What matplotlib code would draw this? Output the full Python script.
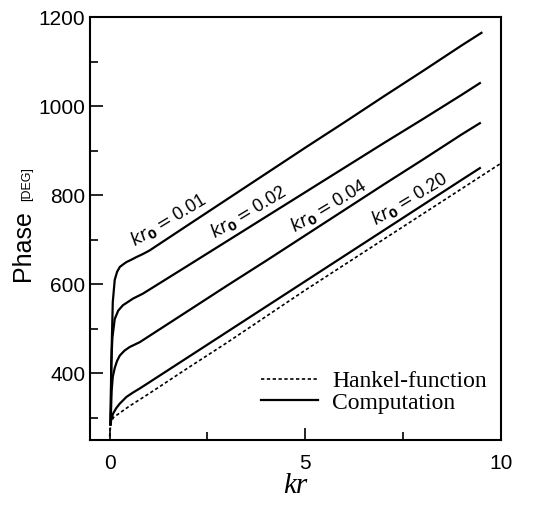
import numpy as np
import matplotlib.pyplot as plt
from matplotlib.ticker import MultipleLocator

# values
kr_hankel = [0.0, 0.03, 0.1, 0.5, 1, 2, 3, 4, 5, 6, 7, 8, 9, 10]
ph_hankel = [258, 290, 301, 326, 354, 412, 469, 528, 587, 644, 701, 758, 815, 872]

kr_001 = [0.02, 0.03, 0.05, 0.08, 0.13, 0.19, 0.26, 0.35, 0.43, 0.55, 0.68, 0.85, 1.02, 2, 3, 4, 5, 6, 7, 8, 9, 9.5]
ph_001 = [285, 330, 450, 560, 610, 628, 639, 645, 650, 655, 661, 668, 676, 733, 791, 849, 907, 964, 1022, 1079, 1137, 1165]

kr_002 = [0.02, 0.03, 0.04, 0.07, 0.13, 0.22, 0.34, 0.6, 0.85, 2, 3, 4, 5, 6, 7, 8, 9, 9.46]
ph_002 = [285, 330, 420, 480, 522, 541, 553, 568, 579, 642, 697, 752, 807, 862, 917, 971, 1026, 1052]

kr_004 = [0.02, 0.03, 0.05, 0.08, 0.13, 0.19, 0.26, 0.38, 0.51, 0.77, 2, 3, 4, 5, 6, 7, 8, 9, 9.46]
ph_004 = [285, 300, 360, 392, 412, 428, 440, 451, 459, 470, 540, 597, 653, 710, 767, 824, 880, 937, 962]

kr_020 = [0.02, 0.04, 0.085, 0.17, 0.26, 0.43, 0.6, 0.77, 1, 2, 3, 4, 5, 6, 7, 8, 9, 9.46]
ph_020 = [285, 295, 309, 322, 332, 347, 357, 366, 379, 436, 493, 550, 607, 664, 721, 778, 835, 861]

labels = ['0.01', '0.02', '0.04', '0.20']
label_pos = [(1.5, 744), (3.55, 762), (5.6, 775), (7.65, 791)]

fig = plt.figure(figsize=(5.33, 5.07), dpi=100)
ax = fig.add_axes([0.169, 0.132, 0.771, 0.834])

lw = 1.6
ax.plot(kr_hankel, ph_hankel, color='black', lw=1.2, ls=(0, (2, 1.5)), label='Hankel-function')
ax.plot(kr_001, ph_001, color='black', lw=lw, label='Computation')
for kr, ph in [(kr_002, ph_002), (kr_004, ph_004), (kr_020, ph_020)]:
    ax.plot(kr, ph, color='black', lw=lw)

for lab, (x, y) in zip(labels, label_pos):
    ax.text(x, y, r'$\mathit{kr}_{\mathbf{0}}$' + '$=$' + lab, rotation=31,
            ha='center', va='center', fontsize=13, family='Liberation Sans',
            rotation_mode='anchor')

ax.set_xlim(-0.5, 10)
ax.set_ylim(250, 1200)
ax.xaxis.set_major_locator(MultipleLocator(5))
ax.xaxis.set_minor_locator(MultipleLocator(2.5))
ax.yaxis.set_major_locator(MultipleLocator(200))
ax.yaxis.set_minor_locator(MultipleLocator(100))
ax.set_yticks([400, 600, 800, 1000, 1200])
ax.tick_params(which='both', direction='in', labelsize=15, width=1.2)
ax.tick_params(which='major', length=9)
ax.tick_params(which='minor', length=6)
ax.tick_params(axis='x', pad=10)
for t in ax.get_xticklabels() + ax.get_yticklabels():
    t.set_family('Liberation Sans')
for s in ax.spines.values():
    s.set_linewidth(1.5)

ax.set_xlabel('kr', fontsize=21, style='italic', family='Liberation Serif', labelpad=0)
fig.text(0.043, 0.516, 'Phase', rotation=90, fontsize=18, family='Liberation Sans',
         ha='center', va='center')
fig.text(0.050, 0.637, '[DEG]', rotation=90, fontsize=9, family='Liberation Sans',
         ha='center', va='center')

ax.legend(loc='lower right', bbox_to_anchor=(1.017, 0.012), frameon=False,
          prop={'family': 'Liberation Serif', 'size': 17},
          handlelength=2.4, handletextpad=0.6, labelspacing=0.0)

plt.savefig('out.png', dpi=100, facecolor='white')
